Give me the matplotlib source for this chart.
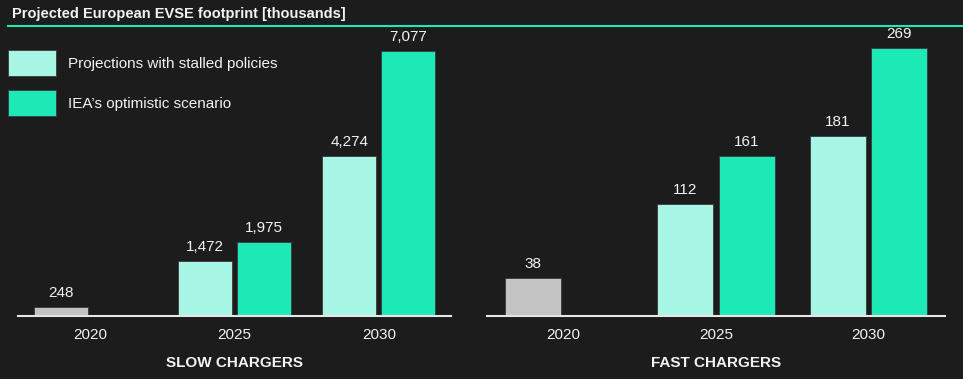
import matplotlib
matplotlib.use("Agg")
import matplotlib.pyplot as plt
from matplotlib.lines import Line2D
import numpy as np

plt.rcParams['font.family'] = ['Liberation Sans', 'DejaVu Sans']

years = ["2020", "2025", "2030"]
series_names = ["Projections with stalled policies", "IEA\u2019s optimistic scenario"]

slow_stalled = [248, 1472, 4274]
slow_iea = [None, 1975, 7077]
fast_stalled = [38, 112, 181]
fast_iea = [None, 161, 269]

panel_titles = ["SLOW CHARGERS", "FAST CHARGERS"]
title = "Projected European EVSE footprint [thousands]"

BG = "#1c1c1c"
C_STALLED = "#a6f5e5"
C_IEA = "#1de9b6"
C_GREY = "#c3c3c3"
FG = "#f2f2f2"

W, H = 963, 379
fig = plt.figure(figsize=(W / 100, H / 100), dpi=100, facecolor=BG)

def px_axes(x0, x1, ytop, ybot):
    return [x0 / W, 1 - ybot / H, (x1 - x0) / W, (ybot - ytop) / H]

ax1 = fig.add_axes(px_axes(18, 451, 30, 316))
ax2 = fig.add_axes(px_axes(487, 945, 30, 316))

def draw(ax, stalled, iea, ymax, width, off, ptitle):
    ax.set_facecolor(BG)
    x = np.arange(len(years))
    b1 = None
    b2 = None
    for i, (s, v) in enumerate(zip(stalled, iea)):
        col = C_STALLED if v is not None else C_GREY
        b = ax.bar(x[i] - off, s, width, color=col, edgecolor="#3a3a3a", linewidth=0.6, zorder=2)
        ax.annotate(f"{s:,}", (x[i] - off, s), xytext=(0, 5), textcoords="offset points",
                    ha="center", va="bottom", color=FG, fontsize=11)
        if v is not None:
            if b1 is None:
                b1 = b
            bb = ax.bar(x[i] + off, v, width, color=C_IEA, edgecolor="#3a3a3a", linewidth=0.6, zorder=2)
            if b2 is None:
                b2 = bb
            ax.annotate(f"{v:,}", (x[i] + off, v), xytext=(0, 5), textcoords="offset points",
                        ha="center", va="bottom", color=FG, fontsize=11)
    ax.set_xlim(-0.5, 2.5)
    ax.set_ylim(0, ymax)
    ax.set_xticks(x)
    ax.set_xticklabels(years, color=FG, fontsize=11)
    ax.tick_params(axis="x", length=0, pad=8.5)
    ax.set_yticks([])
    for s in ["top", "left", "right"]:
        ax.spines[s].set_visible(False)
    ax.spines["bottom"].set_color("#e6e6e6")
    ax.spines["bottom"].set_linewidth(1.5)
    ax.spines["bottom"].set_zorder(3)
    ax.set_xlabel(ptitle, color=FG, fontsize=11, fontweight="bold", labelpad=10)
    return b1, b2

h1, h2 = draw(ax1, slow_stalled, slow_iea, 7638, 0.375, 0.205, panel_titles[0])
draw(ax2, fast_stalled, fast_iea, 287, 0.367, 0.201, panel_titles[1])

leg = ax1.legend([h1, h2], series_names, loc="upper left",
                 bbox_to_anchor=(8 / W, 1 - 50 / H), bbox_transform=fig.transFigure,
                 frameon=False, fontsize=11, handlelength=3.15, handleheight=2.2,
                 labelspacing=0.95, handletextpad=0.8, borderpad=0, borderaxespad=0)
for t in leg.get_texts():
    t.set_color(FG)

fig.text(12 / W, 1 - 14 / H, title, color=FG, fontsize=10.5, fontweight="bold",
         ha="left", va="center")
fig.add_artist(Line2D([8 / W, 1.0], [1 - 26 / H, 1 - 26 / H], color=C_IEA, lw=1.5,
                      transform=fig.transFigure))

fig.savefig("out.png", dpi=100, facecolor=BG)
